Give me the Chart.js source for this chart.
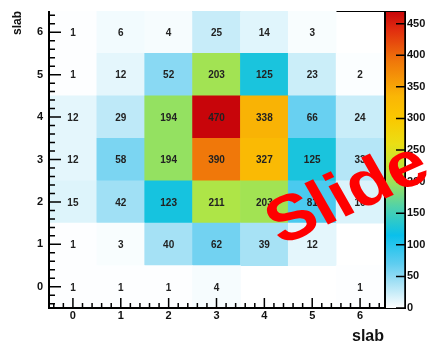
<!DOCTYPE html>
<html>
<head>
<meta charset="utf-8">
<script src="https://cdn.jsdelivr.net/npm/chart.js@4.4.1/dist/chart.umd.min.js"></script>
<style>
  html, body { margin: 0; padding: 0; background: #fff; }
  #wrap { width: 427px; height: 346px; position: relative; }
</style>
</head>
<body>
<div id="wrap"><canvas id="myChart"></canvas></div>
<script>
// bin centres (slab number) on both axes
const slabX = [0, 1, 2, 3, 4, 5, 6];
const slabY = [0, 1, 2, 3, 4, 5, 6];

// entries per bin, one array per y row, indexed by x slab
const row0 = [1, 1, 1, 4, 0, 0, 1];
const row1 = [1, 3, 40, 62, 39, 12, 0];
const row2 = [15, 42, 123, 211, 203, 81, 16];
const row3 = [12, 58, 194, 390, 327, 125, 33];
const row4 = [12, 29, 194, 470, 338, 66, 24];
const row5 = [1, 12, 52, 203, 125, 23, 2];
const row6 = [1, 6, 4, 25, 14, 3, 0];
const rows = [row0, row1, row2, row3, row4, row5, row6];

// colour scale
const zTicks = [0, 50, 100, 150, 200, 250, 300, 350, 400, 450];
const zMax = 470;

// palette: value -> rgb (looks like the root colz palette used in the picture)
const paletteStops = [
  [0, [255, 255, 255]],
  [40, [165, 225, 245]],
  [70, [95, 205, 240]],
  [115, [10, 192, 235]],
  [160, [80, 210, 170]],
  [195, [150, 225, 95]],
  [215, [180, 230, 65]],
  [260, [235, 222, 20]],
  [300, [250, 200, 0]],
  [335, [250, 182, 5]],
  [390, [240, 120, 10]],
  [440, [225, 45, 15]],
  [470, [200, 5, 10]]
];

function colorFor(v) {
  for (let i = 1; i < paletteStops.length; i++) {
    const [v1, c1] = paletteStops[i];
    if (v <= v1) {
      const [v0, c0] = paletteStops[i - 1];
      const t = (v - v0) / (v1 - v0);
      const c = c0.map((a, k) => Math.round(a + (c1[k] - a) * t));
      return `rgb(${c[0]},${c[1]},${c[2]})`;
    }
  }
  const c = paletteStops[paletteStops.length - 1][1];
  return `rgb(${c[0]},${c[1]},${c[2]})`;
}

const FONT = '"Liberation Sans", Arial, Helvetica, sans-serif';

// one floating-bar dataset per y row, each bar spans one bin
const datasets = slabY.map((yv, r) => ({
  data: slabX.map(xv => ({ x: xv, y: [yv - 0.5, yv + 0.5] })),
  backgroundColor: rows[r].map(v => v > 0 ? colorFor(v) : 'rgba(0,0,0,0)'),
  borderWidth: 0,
  grouped: false,
  barPercentage: 1,
  categoryPercentage: 1
}));

function noPad(scale) {
  scale.paddingTop = 0;
  scale.paddingBottom = 0;
  scale.paddingLeft = 0;
  scale.paddingRight = 0;
}

const histPlugin = {
  id: 'histPlugin',
  beforeDatasetsDraw(chart) {
    const { ctx, chartArea: a } = chart;
    ctx.save();
    ctx.strokeStyle = '#000';
    ctx.lineWidth = 1;
    ctx.strokeRect(a.left + 0.5, a.top + 0.5, a.right - a.left, a.bottom - a.top);
    ctx.restore();
  },
  afterDatasetsDraw(chart) {
    const { ctx, chartArea: a, scales } = chart;
    const xs = scales.x, ys = scales.y, zs = scales.z;
    ctx.save();

    // bin contents
    ctx.font = 'bold 10px ' + FONT;
    ctx.fillStyle = '#222';
    ctx.textAlign = 'center';
    ctx.textBaseline = 'middle';
    slabY.forEach((yv, r) => {
      slabX.forEach((xv, c) => {
        const v = rows[r][c];
        if (v > 0) ctx.fillText(String(v), xs.getPixelForValue(xv), ys.getPixelForValue(yv) + 1);
      });
    });

    // axes, root style ticks pointing inwards
    ctx.strokeStyle = '#000';
    ctx.lineWidth = 2;
    ctx.beginPath();
    ctx.moveTo(a.left, a.top);
    ctx.lineTo(a.left, a.bottom);
    ctx.lineTo(a.right, a.bottom);
    ctx.stroke();

    ctx.lineWidth = 1.5;
    ctx.beginPath();
    for (let k = -2; k <= 32; k++) {
      const v = k / 5;
      const px = xs.getPixelForValue(v);
      const len = k % 5 === 0 ? 10 : 5;
      ctx.moveTo(px, a.bottom);
      ctx.lineTo(px, a.bottom - len);
      const py = ys.getPixelForValue(v);
      const ylen = k % 5 === 0 ? 12 : 6;
      ctx.moveTo(a.left, py);
      ctx.lineTo(a.left + ylen, py);
    }
    ctx.stroke();

    // colour palette
    const px0 = a.right + 1, px1 = a.right + 21;
    const top = zs.getPixelForValue(zMax), bot = zs.getPixelForValue(0);
    const grad = ctx.createLinearGradient(0, bot, 0, top);
    paletteStops.forEach(([v]) => grad.addColorStop(v / zMax, colorFor(v)));
    ctx.fillStyle = grad;
    ctx.fillRect(px0, top, px1 - px0, bot - top);
    ctx.lineWidth = 1;
    ctx.strokeRect(px0 + 0.5, top + 0.5, px1 - px0, bot - top);
    ctx.lineWidth = 1.5;
    ctx.beginPath();
    ctx.moveTo(px1, top);
    ctx.lineTo(px1, bot);
    zTicks.forEach(v => {
      const py = zs.getPixelForValue(v);
      ctx.moveTo(px1, py);
      ctx.lineTo(px1 - 9, py);
    });
    ctx.stroke();
    ctx.restore();
  },
  afterDraw(chart) {
    // red watermark over the picture
    const { ctx } = chart;
    ctx.save();
    ctx.translate(281, 246);
    ctx.scale(1.12, 1);
    ctx.rotate(-27 * Math.PI / 180);
    ctx.font = 'bold 64px ' + FONT;
    ctx.fillStyle = '#ff0000';
    ctx.textBaseline = 'alphabetic';
    ctx.fillText('Slide', 0, 0);
    ctx.restore();
  }
};

const tickFont = { family: FONT, weight: 'bold', size: 11 };

new Chart(document.getElementById('myChart'), {
  type: 'bar',
  data: { datasets: datasets },
  options: {
    responsive: true,
    maintainAspectRatio: false,
    animation: false,
    layout: { padding: { top: 11, left: 0, right: 0, bottom: 0 } },
    plugins: { legend: { display: false }, tooltip: { enabled: false } },
    scales: {
      x: {
        type: 'linear',
        offset: false,
        min: -0.5,
        max: 6.5,
        afterBuildTicks: s => { s.ticks = slabX.map(v => ({ value: v })); },
        afterFit: s => { s.height = 38; noPad(s); },
        grid: { display: false, drawTicks: false },
        border: { display: false },
        ticks: { font: tickFont, color: '#111', padding: 1, maxRotation: 0, autoSkip: false },
        title: { display: true, text: 'slab', align: 'end', color: '#111', padding: 0,
                 font: { family: FONT, weight: 'bold', size: 16 } }
      },
      y: {
        type: 'linear',
        offset: false,
        min: -0.5,
        max: 6.5,
        afterBuildTicks: s => { s.ticks = slabY.map(v => ({ value: v })); },
        afterFit: s => { s.width = 49; noPad(s); },
        grid: { display: false, drawTicks: false },
        border: { display: false },
        ticks: { font: tickFont, color: '#111', padding: 6, autoSkip: false },
        title: { display: true, text: 'slab', align: 'end', color: '#111', padding: { top: 10, bottom: 0 },
                 font: { family: FONT, weight: 'bold', size: 12 } }
      },
      z: {
        axis: 'y',
        type: 'linear',
        position: 'right',
        min: 0,
        max: zMax,
        afterBuildTicks: s => { s.ticks = zTicks.map(v => ({ value: v })); },
        afterFit: s => { s.width = 43; noPad(s); },
        grid: { display: false, drawTicks: false },
        border: { display: false },
        ticks: { font: tickFont, color: '#111', padding: 23, autoSkip: false }
      }
    }
  },
  plugins: [histPlugin]
});
</script>
</body>
</html>
